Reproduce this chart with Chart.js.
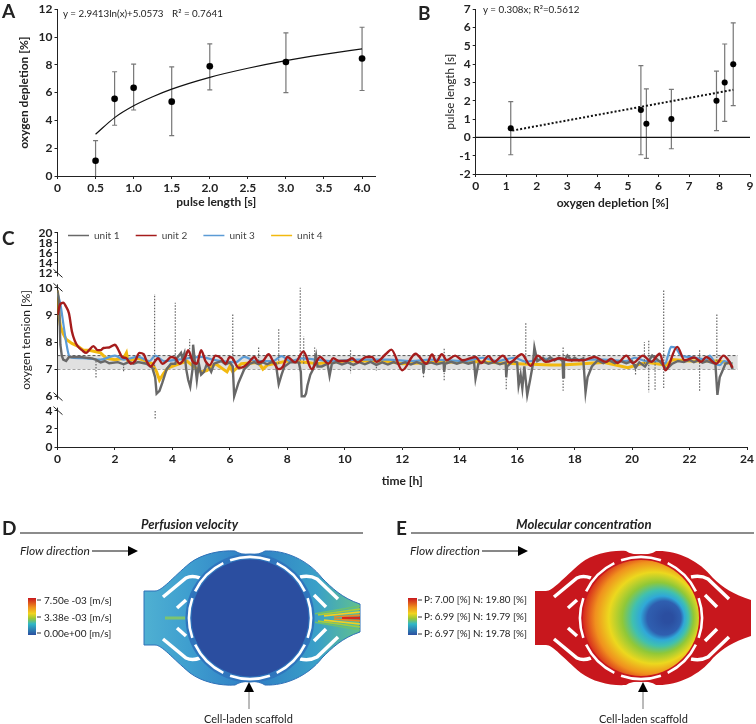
<!DOCTYPE html>
<html>
<head>
<meta charset="utf-8">
<script src="https://cdn.jsdelivr.net/npm/chart.js@4"></script>
<style>
  body { margin: 0; background: #fff; }
  #page { position: relative; width: 756px; height: 724px; overflow: hidden; font-family: Lato, sans-serif; color: #222; }
  #page canvas { position: absolute; }
  .note { position: absolute; white-space: nowrap; transform: translateY(-50%); line-height: 1; }
</style>
</head>
<body>
<div id="page">
  <canvas id="art" width="756" height="224" style="left:0;top:500px"></canvas>
  <canvas id="chartA" width="380" height="215" style="left:0;top:0"></canvas>
  <canvas id="chartB" width="376" height="215" style="left:380px;top:0"></canvas>
  <canvas id="chartC" width="756" height="272" style="left:0;top:220px"></canvas>
</div>
<script>
// panel A
const pulseLength = [0.5, 0.75, 1, 1.5, 2, 3, 4];
const depletionMean = [1.1, 5.55, 6.35, 5.35, 7.9, 8.2, 8.45];
const depletionHigh = [2.55, 7.5, 8.05, 7.85, 9.5, 10.3, 10.7];
const depletionLow = [0, 3.65, 4.75, 2.9, 6.2, 6.0, 6.15];
const trendA = [[0.5, 3.0], [0.75, 4.2], [1, 5.05], [1.25, 5.7], [1.5, 6.25], [2, 7.1], [2.5, 7.75], [3, 8.3], [3.5, 8.75], [4, 9.15]];

// panel B
const depletionB = [1.15, 5.42, 5.6, 6.42, 7.9, 8.17, 8.45];
const pulseB = [0.5, 1.5, 0.75, 1, 2, 3, 4];
const pulseHigh = [1.95, 3.92, 2.65, 2.62, 3.62, 5.1, 6.25];
const pulseLow = [-0.95, -0.95, -1.15, -0.62, 0.37, 0.87, 1.73];
const trendB = [[1.2, 0.37], [8.45, 2.6]];
const zeroB = [[0, 0], [9, 0]];

// panel C, [hours, oxygen %]
const yTicksC = [0, 2, 4, 6, 7, 8, 9, 10, 12, 14, 16, 18, 20];
const axisStops = [0, 4, 6, 10, 12, 20];
const axisFractions = [0, 0.168, 0.2366, 0.743, 0.812, 1];
const bandUpper = [[0, 7.5], [23.68, 7.5]];
const bandLower = [[0, 7], [23.68, 7]];
const unit1 = [[0, 9.9], [0.05, 9.5], [0.08, 8.6], [0.1, 7.9], [0.15, 7.5], [0.2, 7.35], [0.3, 7.3], [0.4, 7.45], [0.6, 7.45], [0.8, 7.45], [1, 7.42], [1.2, 7.4], [1.33, 7.35], [1.5, 7.25], [1.65, 7.3], [1.8, 7.22], [2.1, 7.26], [2.3, 7.18], [2.5, 7.27], [2.65, 7.2], [2.8, 7.26], [3.1, 7.2], [3.3, 7.05], [3.4, 6.7], [3.45, 6.1], [3.55, 6.2], [3.65, 6.5], [3.8, 7], [3.95, 7.2], [4.1, 7.2], [4.15, 7.4], [4.3, 7.6], [4.35, 7.4], [4.42, 7.6], [4.48, 7], [4.55, 6.6], [4.62, 6.35], [4.7, 7], [4.72, 7.9], [4.78, 7.3], [4.85, 6.6], [4.92, 7.2], [5, 6.8], [5.1, 6.9], [5.2, 7.2], [5.35, 6.9], [5.45, 7.2], [5.7, 7.3], [5.85, 7.18], [6, 7.25], [6.1, 7.1], [6.15, 6], [6.3, 6.5], [6.5, 7], [6.7, 7.2], [6.85, 7.26], [7, 7.18], [7.15, 7.25], [7.3, 7.18], [7.45, 7.26], [7.6, 7.2], [7.7, 6.45], [7.8, 6.8], [7.9, 7.1], [8.1, 7.25], [8.4, 7.25], [8.47, 6.9], [8.5, 6], [8.6, 6], [8.65, 6.1], [8.7, 6.4], [8.8, 6.8], [8.9, 7], [9, 7.5], [9.05, 7.1], [9.2, 7.1], [9.4, 7.2], [9.47, 6.75], [9.55, 7.2], [9.7, 7.26], [9.9, 7.17], [10.1, 7.25], [10.3, 7.16], [10.5, 7.26], [10.7, 7.18], [10.9, 7.27], [11.1, 7.16], [11.3, 7.25], [11.5, 7.17], [11.7, 7.26], [11.9, 7.18], [12.1, 7.25], [12.3, 7.17], [12.5, 7.26], [12.72, 7.18], [12.74, 6.85], [12.77, 7.18], [13, 7.25], [13.2, 7.18], [13.44, 7.24], [13.46, 6.9], [13.49, 7.2], [13.7, 7.27], [13.9, 7.2], [14.1, 7.27], [14.3, 7.2], [14.5, 7.26], [14.55, 6.65], [14.65, 7.2], [14.85, 7.27], [15, 7.2], [15.2, 7.26], [15.4, 7.18], [15.6, 7.25], [15.62, 6.7], [15.65, 7.1], [15.85, 7.3], [16, 7.25], [16.05, 6.4], [16.12, 6.8], [16.18, 6.3], [16.25, 7.1], [16.35, 6.05], [16.45, 6.6], [16.55, 7.2], [16.6, 7.8], [16.7, 7.3], [16.9, 7.42], [17, 7.3], [17.15, 7.44], [17.3, 7.32], [17.45, 7.42], [17.58, 7.3], [17.6, 6.7], [17.63, 7.3], [17.75, 7.5], [17.9, 7.32], [18, 7.42], [18.15, 7.32], [18.3, 7.4], [18.38, 6.15], [18.45, 6.7], [18.6, 7.1], [18.8, 7.32], [19, 7.22], [19.2, 7.32], [19.4, 7.22], [19.6, 7.3], [19.8, 7.22], [20, 7.3], [20.12, 7.05], [20.25, 7.25], [20.45, 7.1], [20.7, 7.5], [21, 7.25], [21.2, 7], [21.4, 7.2], [21.6, 7.3], [21.8, 7.26], [22, 7.34], [22.15, 7.26], [22.3, 7.32], [22.45, 7.24], [22.6, 7.3], [22.9, 7.2], [22.97, 6.05], [23.05, 6.7], [23.25, 7.2], [23.4, 7.25], [23.5, 7]];
const unit2 = [[0, 9], [0.1, 9.4], [0.2, 9.45], [0.3, 9.3], [0.4, 9.05], [0.5, 8.4], [0.6, 8.05], [0.7, 7.85], [0.85, 7.7], [1, 7.6], [1.1, 7.7], [1.25, 7.85], [1.4, 7.7], [1.5, 7.7], [1.6, 7.78], [1.8, 7.8], [2, 7.9], [2.1, 7.75], [2.25, 7.45], [2.4, 7.4], [2.55, 7.2], [2.7, 7.3], [2.85, 7.6], [3, 7.55], [3.1, 7.3], [3.25, 7.1], [3.4, 7.3], [3.5, 7.4], [3.65, 7.2], [3.8, 7.3], [3.95, 7.45], [4.1, 7.4], [4.25, 7.2], [4.45, 7.45], [4.55, 7.7], [4.7, 7.3], [4.85, 7.2], [5, 7.7], [5.15, 7.3], [5.3, 7.15], [5.5, 7.5], [5.7, 7.4], [5.85, 7.2], [6, 7.45], [6.1, 7.4], [6.3, 7.05], [6.5, 7.1], [6.7, 7.3], [6.85, 7.45], [7, 7.25], [7.15, 7.3], [7.35, 7.55], [7.5, 7.3], [7.7, 7], [7.85, 7.1], [8, 7.45], [8.27, 7.25], [8.56, 7.65], [8.85, 7], [9.14, 7.45], [9.43, 7.2], [9.6, 7.4], [9.8, 7.3], [10.05, 7.3], [10.25, 7.4], [10.45, 7.25], [10.75, 7.45], [10.95, 7.45], [11.1, 7.27], [11.44, 7.57], [11.62, 7.72], [12, 6.96], [12.46, 7.57], [12.84, 7.2], [13.04, 7.54], [13.18, 7.27], [13.38, 7.55], [13.55, 7.33], [13.84, 7.5], [14.1, 7.33], [14.55, 7.45], [14.75, 7.23], [15, 7.48], [15.2, 7.27], [15.5, 7.5], [15.73, 7.24], [16.16, 7.55], [16.47, 7.12], [16.72, 7.5], [17, 7.27], [17.48, 7.4], [17.82, 7.33], [18.29, 7.33], [18.69, 7.45], [19.1, 7.27], [19.27, 7.39], [19.5, 7.23], [19.8, 7.5], [20.03, 7.23], [20.38, 7.5], [20.67, 7.27], [20.96, 7.57], [21.16, 6.96], [21.57, 7.82], [21.83, 7.33], [22.17, 7.43], [22.4, 7.27], [22.58, 7.45], [22.93, 7.2], [23.18, 7.5], [23.39, 7.27], [23.5, 7.05]];
const unit3 = [[0, 9.8], [0.1, 9.4], [0.2, 8.7], [0.3, 8], [0.4, 7.5], [0.5, 7.42], [1, 7.4], [1.5, 7.35], [2, 7.5], [2.3, 7.35], [2.8, 7.45], [3.2, 7.3], [3.4, 7.5], [3.7, 7.3], [4.2, 7.35], [5, 7.45], [5.4, 7.35], [6.2, 7.25], [6.5, 7.45], [6.9, 7.3], [7.5, 7.3], [7.8, 7.48], [8.1, 7.3], [8.5, 7.4], [9.5, 7.3], [10.5, 7.35], [11.5, 7.35], [12.3, 7.3], [13, 7.35], [14.2, 7.3], [14.8, 7.42], [15.3, 7.3], [15.9, 7.42], [16.3, 7.28], [17, 7.38], [18, 7.35], [19, 7.35], [19.8, 7.3], [20.1, 7.42], [20.5, 7.3], [21, 7.3], [21.15, 7.2], [21.25, 7.5], [21.36, 7.82], [21.5, 7.8], [21.7, 7.5], [22, 7.45], [22.3, 7.4], [22.6, 7.35], [22.7, 7.5], [22.9, 7.2], [23.05, 7.15], [23.2, 7.3], [23.5, 7.2]];
const unit4 = [[0, 9.9], [0.05, 9], [0.1, 8.6], [0.2, 8.3], [0.3, 8.1], [0.5, 7.95], [0.7, 7.85], [0.9, 7.7], [1.1, 7.7], [1.3, 7.65], [1.5, 7.6], [1.7, 7.4], [2, 7.35], [2.3, 7.4], [2.4, 7.6], [2.45, 7.3], [2.8, 7.4], [3.1, 7.3], [3.3, 7.2], [3.45, 6.9], [3.55, 6.6], [3.7, 6.85], [3.85, 7.05], [4.5, 7.3], [4.8, 7.05], [5, 6.9], [5.2, 6.95], [5.5, 7.2], [5.9, 6.9], [6, 7.1], [6.1, 6.9], [6.4, 7.2], [7, 7.25], [7.15, 7], [7.3, 7.15], [8, 7.3], [8.7, 7.25], [9, 7.2], [10, 7.3], [11.4, 7.3], [12, 7.2], [13, 7.25], [14.5, 7.28], [16, 7.2], [17.2, 7.15], [17.5, 7.15], [18, 7.18], [19, 7.25], [19.85, 7.05], [20.5, 7.25], [21.2, 7.15], [21.4, 7.35], [22, 7.3], [23, 7.3], [23.5, 7.2]];
// thin sensor spikes: [hours, from %, to %]
const unit1Spikes = [[1.34, 7.3, 6.65], [2.3, 7.2, 6.9], [3.38, 7, 9.77], [3.4, 4, 3.1], [4.1, 7.2, 9.45], [4.6, 7.4, 8.1], [6.1, 7.3, 9.05], [7, 7.3, 7.8], [7.7, 7.2, 8.5], [8.45, 7.2, 10], [8.57, 7.2, 8.2], [8.95, 7.2, 7.8], [10.2, 7.2, 7.75], [10.2, 7.2, 6.85], [11.1, 7.2, 6.95], [12.74, 7.2, 6.7], [13.46, 7.75, 6.55], [15.62, 7.2, 6.2], [16.3, 7.2, 8.7], [17.6, 7.8, 6.2], [20.12, 7.3, 6.75], [20.43, 7.2, 8], [20.58, 8.05, 6.15], [20.8, 7.4, 6.2], [21.1, 9.9, 6.25], [22.35, 7.7, 6.2], [22.95, 7.3, 9.05]];

const xTicksC = [0, 2, 4, 6, 8, 10, 12, 14, 16, 18, 20, 22, 24];

const font = { family: 'Lato', size: 12, weight: 'bold' };
const plainFont = { family: 'Lato', size: 12 };
const ink = '#222';

// piecewise y axis for the broken axis of panel C
class BrokenScale extends Chart.LinearScale {
  getPixelForValue(value) {
    let i = 0;
    while (i < axisStops.length - 2 && value > axisStops[i + 1]) i++;
    const t = (value - axisStops[i]) / (axisStops[i + 1] - axisStops[i]);
    const frac = axisFractions[i] + t * (axisFractions[i + 1] - axisFractions[i]);
    return this.bottom - frac * (this.bottom - this.top);
  }
  getValueForPixel(pixel) {
    const frac = (this.bottom - pixel) / (this.bottom - this.top);
    let i = 0;
    while (i < axisFractions.length - 2 && frac > axisFractions[i + 1]) i++;
    const t = (frac - axisFractions[i]) / (axisFractions[i + 1] - axisFractions[i]);
    return axisStops[i] + t * (axisStops[i + 1] - axisStops[i]);
  }
}
BrokenScale.id = 'broken';
BrokenScale.defaults = Chart.LinearScale.defaults;
Chart.register(BrokenScale);

// whiskers, drawn through the chart's scales
const whiskers = {
  id: 'whiskers',
  beforeDatasetsDraw(chart, args, opts) {
    const { ctx, scales: { x, y } } = chart;
    ctx.save();
    ctx.strokeStyle = '#777';
    ctx.lineWidth = 1.2;
    opts.xs.forEach((v, i) => {
      const px = x.getPixelForValue(v);
      const hi = y.getPixelForValue(opts.high[i]);
      const lo = y.getPixelForValue(opts.low[i]);
      ctx.beginPath();
      ctx.moveTo(px, hi); ctx.lineTo(px, lo);
      ctx.moveTo(px - 2.5, hi); ctx.lineTo(px + 2.5, hi);
      if (opts.low[i] > y.min) { ctx.moveTo(px - 2.5, lo); ctx.lineTo(px + 2.5, lo); }
      ctx.stroke();
    });
    ctx.restore();
  }
};

function axis(min, max, step, title, extra) {
  return Object.assign({
    type: 'linear', min, max,
    border: { color: ink, width: 1 },
    grid: { drawOnChartArea: false, color: ink, tickLength: 3 },
    ticks: { stepSize: step, includeBounds: false, color: ink, font, padding: 2, maxRotation: 0, autoSkip: false },
    title: { display: true, text: title, color: ink, font, padding: { top: 2, bottom: 0 } }
  }, extra);
}

const baseOptions = {
  responsive: false,
  animation: false,
  events: [],
  plugins: { legend: { display: false }, tooltip: { enabled: false } }
};

const toPoints = (xs, ys) => xs.map((v, i) => ({ x: v, y: ys[i] }));

new Chart(document.getElementById('chartA'), {
  type: 'scatter',
  data: {
    datasets: [
      { data: toPoints(pulseLength, depletionMean), backgroundColor: '#000', pointRadius: 3.3 },
      { type: 'line', data: trendA, borderColor: '#111', borderWidth: 1.2, pointRadius: 0, cubicInterpolationMode: 'monotone' }
    ]
  },
  plugins: [whiskers],
  options: {
    ...baseOptions,
    layout: { padding: { top: 8, right: 4, left: 15, bottom: 6 } },
    plugins: { ...baseOptions.plugins, whiskers: { xs: pulseLength, high: depletionHigh, low: depletionLow } },
    scales: {
      x: axis(0, 4.17, 0.5, 'pulse length [s]', {
        afterFit(s) { s.height = 33; },
        ticks: { stepSize: 0.5, includeBounds: false, color: ink, font, padding: 2, maxRotation: 0, autoSkip: false,
          callback: v => v === 0 ? '0' : v.toFixed(1) }
      }),
      y: axis(0, 12, 2, 'oxygen depletion [%]', { afterFit(s) { s.width = 42.5; } })
    }
  }
});

new Chart(document.getElementById('chartB'), {
  type: 'scatter',
  data: {
    datasets: [
      { data: toPoints(depletionB, pulseB), backgroundColor: '#000', pointRadius: 3 },
      { type: 'line', data: trendB, borderColor: '#111', borderWidth: 2, borderDash: [2, 2], pointRadius: 0 },
      { type: 'line', data: zeroB, borderColor: '#111', borderWidth: 1.2, pointRadius: 0 }
    ]
  },
  plugins: [whiskers],
  options: {
    ...baseOptions,
    layout: { padding: { top: 9, right: 6, left: 61, bottom: 5 } },
    plugins: { ...baseOptions.plugins, whiskers: { xs: depletionB, high: pulseHigh, low: pulseLow } },
    scales: {
      x: axis(0, 9, 1, 'oxygen depletion [%]', { afterFit(s) { s.height = 36; } }),
      y: axis(-2, 7, 1, 'pulse length [s]', {
        afterFit(s) { s.width = 34.7; },
        title: { display: true, text: 'pulse length [s]', color: ink, font: { family: 'Lato', size: 11.5 }, padding: { top: 2, bottom: 2 } }
      })
    }
  }
});

// axis break marks and line key of panel C
const breakMarks = {
  id: 'breakMarks',
  afterDraw(chart) {
    const { ctx, scales: { y } } = chart;
    const left = y.right;
    ctx.save();
    [11, 5].forEach(v => {
      const mid = y.getPixelForValue(v);
      ctx.fillStyle = '#fff';
      ctx.fillRect(left - 2, mid - 4, 4, 8);
      ctx.strokeStyle = ink;
      ctx.lineWidth = 1;
      [-7, 7].forEach(d => {
        ctx.beginPath();
        ctx.moveTo(left - 4, mid + d - 4);
        ctx.lineTo(left + 5, mid + d + 4);
        ctx.stroke();
      });
    });
    ctx.restore();
  }
};
const lineKey = {
  id: 'lineKey',
  afterDraw(chart, args, opts) {
    const { ctx } = chart;
    ctx.save();
    ctx.font = '10px Lato';
    ctx.textBaseline = 'middle';
    opts.items.forEach((name, i) => {
      const ds = chart.data.datasets.find(d => d.label === name);
      const x = opts.x + i * opts.step;
      ctx.strokeStyle = ds.borderColor;
      ctx.lineWidth = 1.5;
      ctx.beginPath();
      ctx.moveTo(x, opts.y); ctx.lineTo(x + 21, opts.y);
      ctx.stroke();
      ctx.fillStyle = '#444';
      ctx.fillText(name, x + 26, opts.y);
    });
    ctx.restore();
  }
};

new Chart(document.getElementById('chartC'), {
  type: 'line',
  data: {
    datasets: [
      { label: 'unit 2', data: unit2, borderColor: '#a51c1c', borderWidth: 2.4, pointRadius: 0, cubicInterpolationMode: 'monotone', order: 1 },
      { label: 'unit 1', data: unit1, borderColor: '#686868', borderWidth: 2.4, pointRadius: 0, order: 2 },
      { label: 'unit 1 spikes', data: unit1Spikes.flatMap(s => [{ x: s[0], y: s[1] }, { x: s[0], y: s[2] }, { x: s[0], y: null }]),
        borderColor: '#666', borderWidth: 1.2, borderDash: [1.5, 1.5], pointRadius: 0, order: 3 },
      { label: 'unit 3', data: unit3, borderColor: '#5b9bd5', borderWidth: 2.2, pointRadius: 0, cubicInterpolationMode: 'monotone', order: 4 },
      { label: 'unit 4', data: unit4, borderColor: '#f2b90f', borderWidth: 3, pointRadius: 0, order: 5 },
      { label: 'limit high', data: bandUpper, borderColor: '#555', borderWidth: 1, borderDash: [3, 2], pointRadius: 0, fill: '+1', backgroundColor: '#e0e0e0', order: 6 },
      { label: 'limit low', data: bandLower, borderColor: '#555', borderWidth: 1, borderDash: [3, 2], pointRadius: 0, order: 7 }
    ]
  },
  plugins: [breakMarks, lineKey],
  options: {
    ...baseOptions,
    layout: { padding: { top: 12.7, right: 9, left: 17, bottom: 4 } },
    plugins: { ...baseOptions.plugins, lineKey: { items: ['unit 1', 'unit 2', 'unit 3', 'unit 4'], x: 68, y: 15.5, step: 67.7 } },
    scales: {
      x: axis(0, 24, 2, 'time [h]', {
        afterFit(s) { s.height = 41; },
        afterBuildTicks(s) { s.ticks = xTicksC.map(value => ({ value })); }
      }),
      y: axis(0, 20, 2, 'oxygen tension [%]', {
        type: 'broken',
        afterFit(s) { s.width = 40.5; },
        afterBuildTicks(s) { s.ticks = yTicksC.map(value => ({ value })); },
        title: { display: true, text: 'oxygen tension [%]', color: ink, font: plainFont, padding: { top: 2, bottom: 2 } }
      })
    }
  }
});

// panels D and E: simulation pictures, not data
const art = document.getElementById('art').getContext('2d');
art.translate(0, -500);

function silhouette(c, cx, cy, outlet) {
  c.beginPath();
  c.moveTo(cx - 106, cy - 27);
  c.lineTo(cx - 95, cy - 27);
  c.bezierCurveTo(cx - 88, cy - 27, cx - 78, cy - 40, cx - 60, cy - 55);
  c.bezierCurveTo(cx - 48, cy - 64, cx - 30, cy - 68, cx - 15, cy - 67);
  c.bezierCurveTo(cx - 8, cy - 62, cx + 8, cy - 62, cx + 15, cy - 67);
  c.bezierCurveTo(cx + 35, cy - 68, cx + 58, cy - 58, cx + 72, cy - 40);
  c.bezierCurveTo(cx + 82, cy - 30, cx + 92, cy - outlet - 6, cx + 110, cy - outlet);
  c.lineTo(cx + 110, cy + outlet);
  c.bezierCurveTo(cx + 92, cy + outlet + 6, cx + 82, cy + 30, cx + 72, cy + 40);
  c.bezierCurveTo(cx + 58, cy + 58, cx + 35, cy + 68, cx + 15, cy + 67);
  c.bezierCurveTo(cx + 8, cy + 62, cx - 8, cy + 62, cx - 15, cy + 67);
  c.bezierCurveTo(cx - 30, cy + 68, cx - 48, cy + 64, cx - 60, cy + 55);
  c.bezierCurveTo(cx - 78, cy + 40, cx - 88, cy + 27, cx - 95, cy + 27);
  c.lineTo(cx - 106, cy + 27);
  c.closePath();
}

function slits(c, cx, cy) {
  c.strokeStyle = '#fff';
  c.lineWidth = 3.5;
  c.lineCap = 'butt';
  [-1, 1].forEach(sy => {
    // inlet side
    c.beginPath();
    c.moveTo(cx - 87, cy + sy * 21);
    c.lineTo(cx - 64, cy + sy * 40);
    c.quadraticCurveTo(cx - 58, cy + sy * 43, cx - 50, cy + sy * 40);
    c.stroke();
    c.beginPath();
    c.moveTo(cx - 73, cy + sy * 10);
    c.lineTo(cx - 64, cy + sy * 18);
    c.stroke();
    // outlet side
    c.beginPath();
    c.moveTo(cx + 88, cy + sy * 19);
    c.lineTo(cx + 67, cy + sy * 39);
    c.quadraticCurveTo(cx + 60, cy + sy * 43, cx + 50, cy + sy * 41);
    c.stroke();
    c.beginPath();
    c.moveTo(cx + 76, cy + sy * 11);
    c.lineTo(cx + 64, cy + sy * 23);
    c.stroke();
  });
}

function ring(c, cx, cy, r, gapCount) {
  c.strokeStyle = '#fff';
  c.lineWidth = 2.6;
  c.lineCap = 'butt';
  for (let i = 0; i < gapCount; i++) {
    const a = i * Math.PI * 2 / gapCount + Math.PI / gapCount;
    c.beginPath();
    c.arc(cx, cy, r, a + 0.06, a + Math.PI * 2 / gapCount - 0.06);
    c.stroke();
  }
}

// D
const dx = 250, dy = 618;
let g = art.createLinearGradient(dx - 106, 0, dx + 110, 0);
g.addColorStop(0, '#4fb0d2'); g.addColorStop(0.2, '#3f9fcf'); g.addColorStop(0.5, '#2f7dc4'); g.addColorStop(0.8, '#3aa0c8'); g.addColorStop(1, '#60c090');
silhouette(art, dx, dy, 14);
art.fillStyle = g; art.fill();
art.strokeStyle = '#2f70b8'; art.lineWidth = 1; art.stroke();
slits(art, dx, dy);
// outlet and inlet streaks
[['#6cc070', 12, 65], ['#a8cc38', 9, 68], ['#f4d020', 6, 74], ['#f08a20', 3, 84], ['#d8281c', 0.8, 92]].forEach(([col, off, start]) => {
  [-1, 1].forEach(s => {
    art.strokeStyle = col; art.lineWidth = 1.6;
    art.beginPath();
    art.moveTo(dx + start, dy + s * off * 0.35);
    art.lineTo(dx + 110, dy + s * off);
    art.stroke();
  });
});
art.strokeStyle = '#7cc470'; art.lineWidth = 3;
art.beginPath(); art.moveTo(dx - 85, dy); art.lineTo(dx - 65, dy); art.stroke();
art.beginPath(); art.arc(dx, dy, 64.5, 0, Math.PI * 2); art.fillStyle = '#2f75bd'; art.fill();
ring(art, dx, dy, 61, 8);
art.beginPath(); art.arc(dx, dy, 58.5, 0, Math.PI * 2); art.fillStyle = '#2b4ea0'; art.fill();

// E
const ex = 641, ey = 618;
silhouette(art, ex, ey, 18);
art.fillStyle = '#c8171d'; art.fill();
slits(art, ex, ey);
art.beginPath(); art.arc(ex, ey, 64, 0, Math.PI * 2); art.fillStyle = '#c8171d'; art.fill();
ring(art, ex, ey, 61, 8);
g = art.createRadialGradient(668, ey, 5, 640, ey, 90);
[[0, '#2b4ea0'], [0.14, '#2f5fb0'], [0.2, '#2fa8d8'], [0.27, '#40c0b0'], [0.36, '#90c838'], [0.48, '#ecd81e'], [0.6, '#f0901e'], [0.7, '#d8301c'], [1, '#c8171d']]
  .forEach(s => g.addColorStop(s[0], s[1]));
art.beginPath(); art.arc(ex, ey, 58, 0, Math.PI * 2); art.fillStyle = g; art.fill();

// colour keys
function colourKey(x, w) {
  const k = art.createLinearGradient(0, 598, 0, 635);
  [[0, '#c8171d'], [0.25, '#f0901e'], [0.42, '#f0d41e'], [0.55, '#9cc830'], [0.7, '#30b8c8'], [1, '#2b4ea0']].forEach(s => k.addColorStop(s[0], s[1]));
  art.fillStyle = k;
  art.fillRect(x, 598, w, 37);
}
colourKey(28, 8);
colourKey(408, 9);

// rules, arrows and leader ticks
function rule(x1, x2) {
  art.strokeStyle = '#666'; art.lineWidth = 1.4;
  art.beginPath(); art.moveTo(x1, 533); art.lineTo(x2, 533); art.stroke();
}
function arrowRight(x1, x2) {
  art.strokeStyle = '#111'; art.lineWidth = 1;
  art.beginPath(); art.moveTo(x1, 551); art.lineTo(x2 - 8, 551); art.stroke();
  art.fillStyle = '#000';
  art.beginPath(); art.moveTo(x2, 551); art.lineTo(x2 - 10, 546); art.lineTo(x2 - 10, 556); art.closePath(); art.fill();
}
function arrowUp(x) {
  art.strokeStyle = '#777'; art.lineWidth = 1;
  art.beginPath(); art.moveTo(x, 690); art.lineTo(x, 709); art.stroke();
  art.fillStyle = '#000';
  art.beginPath(); art.moveTo(x, 682); art.lineTo(x - 5, 692); art.lineTo(x + 5, 692); art.closePath(); art.fill();
}
rule(20, 363); rule(411, 754);
arrowRight(92, 138); arrowRight(482, 528);
arrowUp(249); arrowUp(643);
art.strokeStyle = '#333'; art.lineWidth = 1;
[[37, 600], [37, 617], [37, 633], [418, 600], [418, 617], [418, 634]].forEach(t => {
  art.beginPath(); art.moveTo(t[0], t[1]); art.lineTo(t[0] + 4, t[1]); art.stroke();
});

// loose text
const notes = [
  ['A', 2, 10, 'bold 19px Lato'], ['B', 418, 12, 'bold 19px Lato'], ['C', 2, 237, 'bold 19px Lato'], ['D', 2, 527, 'bold 19px Lato'], ['E', 396, 527, 'bold 19px Lato'],
  ['y = 2.9413ln(x)+5.0573', 63, 14, '9.8px Lato'], ['R\u00b2 = 0.7641', 172, 14, '9.8px Lato'],
  ['y = 0.308x; R\u00b2=0.5612', 483, 10, '9.8px Lato'],
  ['Perfusion velocity', 141, 524, 'italic bold 13px Lato'], ['Molecular concentration', 516, 525, 'italic bold 13.2px Lato'],
  ['Flow direction', 20, 551, 'italic 12px Lato'], ['Flow direction', 410, 551, 'italic 12px Lato'],
  ['7.50e -03 [m/s]', 44, 600, '10px Lato'], ['3.38e -03 [m/s]', 44, 617, '10px Lato'], ['0.00e+00 [m/s]', 44, 633, '10px Lato'],
  ['P: 7.00 [%] N: 19.80 [%]', 424, 600, '9.8px Lato'], ['P: 6.99 [%] N: 19.79 [%]', 424, 617, '9.8px Lato'], ['P: 6.97 [%] N: 19.78 [%]', 424, 634, '9.8px Lato'],
  ['Cell-laden scaffold', 204, 718, '11px Lato'], ['Cell-laden scaffold', 599, 718, '11px Lato']
];
const page = document.getElementById('page');
notes.forEach(([text, x, y, f]) => {
  const el = document.createElement('div');
  el.className = 'note';
  el.textContent = text;
  el.style.left = x + 'px';
  el.style.top = y + 'px';
  el.style.font = f;
  el.style.lineHeight = '1';
  page.appendChild(el);
});
</script>
</body>
</html>
